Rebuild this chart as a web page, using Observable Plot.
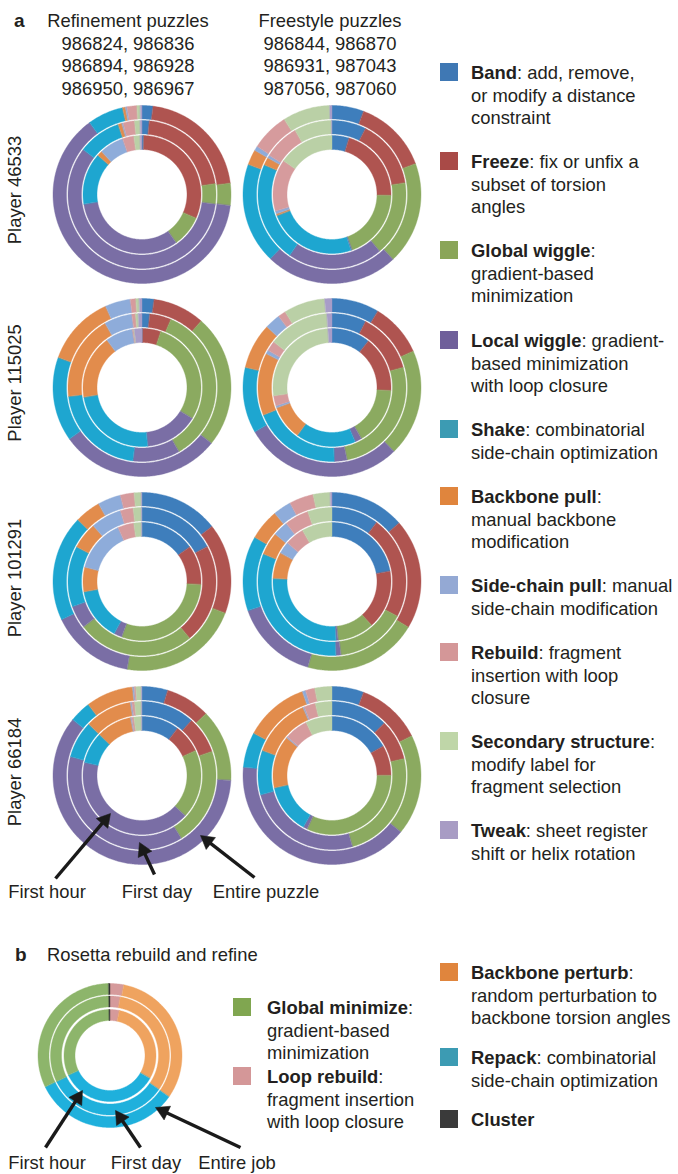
<!DOCTYPE html>
<html>
<head>
<meta charset="utf-8">
<script src="https://cdn.jsdelivr.net/npm/d3@7"></script>
<script src="https://cdn.jsdelivr.net/npm/@observablehq/plot@0.6"></script>
<style>
html, body { margin: 0; padding: 0; background: #fff; }
#fig { position: relative; width: 678px; height: 1174px; overflow: hidden;
  font-family: "Liberation Sans", Arial, Helvetica, sans-serif; color: #231f20; font-size: 18.4px; }
#fig svg { position: absolute; left: 0; top: 0; }
.t { position: absolute; white-space: nowrap; line-height: 1; }
.sq { position: absolute; width: 18px; height: 18px; }
</style>
</head>
<body>
<div id="fig"></div>
<script>
// ---------------- DATA ----------------
const categories = ["Band", "Freeze", "Global wiggle", "Local wiggle", "Shake",
  "Backbone pull", "Side-chain pull", "Rebuild", "Secondary structure", "Tweak"];
const categoryDescriptions = [
  [": add, remove,", "or modify a distance", "constraint"],
  [": fix or unfix a", "subset of torsion", "angles"],
  [":", "gradient-based", "minimization"],
  [": gradient-", "based minimization", "with loop closure"],
  [": combinatorial", "side-chain optimization"],
  [":", "manual backbone", "modification"],
  [": manual", "side-chain modification"],
  [": fragment", "insertion with loop", "closure"],
  [":", "modify label for", "fragment selection"],
  [": sheet register", "shift or helix rotation"]
];
const players = ["Player 46533", "Player 115025", "Player 101291", "Player 66184"];
const puzzleSets = ["Refinement puzzles", "Freestyle puzzles"];
const puzzleIds = [
  ["986824, 986836", "986894, 986928", "986950, 986967"],
  ["986844, 986870", "986931, 987043", "987056, 987060"]
];
const ringLabels = ["First hour", "First day", "Entire puzzle"];

// share of moves (%) per category; rows = first hour, first day, entire puzzle
const p46533Refinement = [
  [0.5, 31.1, 8.6, 32.2, 14.2, 1.4, 6.7, 3.1, 1.7, 0.5],
  [1.6, 21.1, 4.4, 58.3, 9.4, 0.8, 0.3, 2.5, 1.2, 0.4],
  [2.0, 21.0, 4.0, 63.0, 6.5, 0.5, 0.3, 1.8, 0.6, 0.3]
];
const p46533Freestyle = [
  [4.7, 20.6, 19.2, 0.3, 24.4, 0.5, 0.8, 14.2, 15.3, 0],
  [7.5, 15.0, 16.4, 20.8, 21.9, 1.7, 0.6, 7.8, 8.2, 0.1],
  [5.8, 13.6, 18.6, 24.2, 18.3, 2.8, 0.8, 6.9, 8.6, 0.4]
];
const p115025Refinement = [
  [0.2, 5.0, 28.6, 14.7, 23.9, 17.5, 7.5, 0.3, 0.2, 2.1],
  [1.7, 4.7, 35.3, 10.3, 21.1, 18.6, 6.1, 0.8, 0.6, 0.8],
  [2.2, 9.4, 24.2, 29.4, 15.3, 12.8, 4.6, 1.0, 0.6, 0.5]
];
const p115025Freestyle = [
  [10.6, 15.3, 15.8, 1.9, 16.4, 9.4, 0.6, 2.8, 26.1, 1.1],
  [7.5, 13.1, 26.1, 2.8, 19.4, 13.6, 0.8, 2.2, 13.3, 1.1],
  [8.6, 9.7, 19.4, 28.9, 11.9, 8.3, 2.8, 1.4, 7.5, 1.3]
];
const p101291Refinement = [
  [15.0, 10.8, 29.7, 2.2, 14.4, 6.7, 14.4, 4.4, 2.1, 0.1],
  [17.2, 21.7, 25.6, 5.0, 13.3, 5.8, 6.7, 2.8, 1.8, 0.1],
  [14.4, 16.4, 21.9, 15.3, 19.2, 4.7, 4.2, 2.5, 1.3, 0.1]
];
const p101291Freestyle = [
  [22.2, 16.1, 10.0, 0.6, 26.9, 7.2, 3.3, 5.3, 8.3, 0],
  [10.3, 22.5, 15.3, 1.1, 31.9, 5.0, 3.3, 5.3, 5.3, 0],
  [13.6, 20.0, 20.8, 15.3, 13.6, 5.6, 3.3, 4.4, 3.1, 0.3]
];
const p66184Refinement = [
  [10.3, 7.8, 18.9, 41.7, 8.6, 9.7, 0.3, 0.6, 2.1, 0.1],
  [11.7, 8.1, 21.4, 38.1, 8.1, 10.3, 0.3, 0.6, 1.5, 0.1],
  [4.7, 8.1, 13.1, 60.0, 3.9, 8.6, 0.3, 0.3, 1.0, 0.1]
];
const p66184Freestyle = [
  [16.7, 8.3, 31.9, 1.1, 13.6, 14.4, 0.3, 6.4, 7.2, 0],
  [12.5, 8.9, 24.2, 25.3, 9.7, 13.1, 0.3, 2.5, 3.6, 0],
  [5.8, 11.9, 18.3, 40.6, 6.4, 11.7, 0.6, 1.7, 3.1, 0]
];

// Rosetta (panel b), clockwise order from 12 o'clock
const rosettaSteps = ["Loop rebuild", "Backbone perturb", "Repack", "Global minimize", "Cluster"];
const rosettaShares = [
  [3.3, 30.0, 34.7, 31.7, 0.3],
  [2.8, 31.9, 33.1, 31.9, 0.3],
  [3.1, 31.7, 33.1, 31.9, 0.3]
];
const rosettaRingLabels = ["First hour", "First day", "Entire job"];
const rosettaLegend = ["Global minimize", "Loop rebuild", "Backbone perturb", "Repack", "Cluster"];
const rosettaDescriptions = [
  [":", "gradient-based", "minimization"],
  [":", "fragment insertion", "with loop closure"],
  [":", "random perturbation to", "backbone torsion angles"],
  [": combinatorial", "side-chain optimization"],
  [""]
];

// ---------------- STYLE / LAYOUT ----------------
const W = 678, H = 1174;
const sliceColors = ["#3e7ebc", "#af5450", "#8baa60", "#7a6ea5", "#1ea6d0",
  "#e28c4c", "#8eacda", "#d69b9d", "#bad0a6", "#a89dc8"];
const legendColors = ["#3f78b4", "#a94a47", "#8aa558", "#6f5f9a", "#3c9bb3",
  "#e0853d", "#94a9d4", "#d49798", "#bfd6a8", "#a89cc4"];
const rosettaSliceColors = ["#d59a9b", "#efa35f", "#1fb0dc", "#8db56b", "#333333"];
const rosettaLegendColors = ["#80a650", "#d49798", "#e0853d", "#3c9bb3", "#3a3a3a"];

const colX = [141.5, 331.5];
const rowY = [194, 387, 581, 775];
const ringRadii = [[45, 59], [60.5, 74], [75.5, 89]];
const rosettaCenter = [109.5, 1055];
const rosettaRadii = [[35, 46], [48.5, 59.5], [61, 72]];

const panels = [
  [p46533Refinement, p46533Freestyle],
  [p115025Refinement, p115025Freestyle],
  [p101291Refinement, p101291Freestyle],
  [p66184Refinement, p66184Freestyle]
];

// ---------------- BUILD SLICE POLYGONS ----------------
const pts = [];
let sid = 0;
function addDonut(rings, names, cx, cy, radii) {
  rings.forEach((vals, ri) => {
    const total = d3.sum(vals);
    let acc = 0;
    const [r0, r1] = radii[ri];
    vals.forEach((v, i) => {
      if (!(v > 0)) return;
      const a0 = acc / total * 2 * Math.PI;
      acc += v;
      const a1 = acc / total * 2 * Math.PI;
      const n = Math.max(2, Math.ceil((a1 - a0) / (Math.PI / 240)));
      const id = sid++;
      for (let k = 0; k <= n; k++) {
        const a = a0 + (a1 - a0) * k / n;
        pts.push({id, cat: names[i], x: cx + r1 * Math.sin(a), y: cy - r1 * Math.cos(a)});
      }
      for (let k = n; k >= 0; k--) {
        const a = a0 + (a1 - a0) * k / n;
        pts.push({id, cat: names[i], x: cx + r0 * Math.sin(a), y: cy - r0 * Math.cos(a)});
      }
    });
  });
}
panels.forEach((row, r) => row.forEach((rings, c) => addDonut(rings, categories, colX[c], rowY[r], ringRadii)));
addDonut(rosettaShares, rosettaSteps, rosettaCenter[0], rosettaCenter[1], rosettaRadii);

// arrows (annotation layout): tail -> tip
const arrowLayout = [
  {label: ringLabels[0], x1: 55, y1: 878, x2: 110, y2: 813},
  {label: ringLabels[1], x1: 154, y1: 874, x2: 139, y2: 842},
  {label: ringLabels[2], x1: 254, y1: 877, x2: 200, y2: 835},
  {label: rosettaRingLabels[0], x1: 45, y1: 1147, x2: 82, y2: 1090},
  {label: rosettaRingLabels[1], x1: 140, y1: 1147, x2: 115, y2: 1110},
  {label: rosettaRingLabels[2], x1: 240, y1: 1147, x2: 155, y2: 1107}
];
const headR = 5.6;
const tipOffset = 2 * Math.sqrt(headR * headR * Math.PI / (Math.sqrt(3) * 3));
const arrows = arrowLayout.map(a => {
  const dx = a.x2 - a.x1, dy = a.y2 - a.y1, L = Math.hypot(dx, dy);
  const ux = dx / L, uy = dy / L;
  return {...a, hx: a.x2 - ux * tipOffset, hy: a.y2 - uy * tipOffset,
    angle: Math.atan2(dx, -dy) * 180 / Math.PI};
});

const chart = Plot.plot({
  width: W, height: H, margin: 0,
  x: {domain: [0, W], range: [0, W], axis: null},
  y: {domain: [0, H], range: [0, H], axis: null},
  color: {type: "ordinal", domain: [...categories, ...rosettaSteps],
    range: [...sliceColors, ...rosettaSliceColors]},
  marks: [
    Plot.line(pts, {x: "x", y: "y", z: "id", fill: "cat", stroke: "cat",
      strokeWidth: 0.4, curve: "linear-closed"}),
    Plot.link(arrows, {x1: "x1", y1: "y1", x2: "hx", y2: "hy", stroke: "#1a1a1a", strokeWidth: 3.4}),
    Plot.dot(arrows, {x: "hx", y: "hy", symbol: "triangle", r: headR, fill: "#1a1a1a",
      stroke: "#1a1a1a", strokeWidth: 0.5, rotate: "angle"})
  ]
});
const fig = document.getElementById("fig");
fig.appendChild(chart);

// ---------------- TEXT ----------------
function addText(html, x, y, anchor = "start", extra = {}) {
  const d = document.createElement("div");
  d.className = "t";
  d.innerHTML = html;
  d.style.left = x + "px";
  d.style.top = y + "px";
  d.style.transform = anchor === "middle" ? "translate(-50%,-50%)" : "translateY(-50%)";
  Object.assign(d.style, extra);
  fig.appendChild(d);
  return d;
}
function addSquare(x, y, color) {
  const s = document.createElement("div");
  s.className = "sq";
  s.style.left = x + "px";
  s.style.top = y + "px";
  s.style.background = color;
  fig.appendChild(s);
}
const lineH = 22.5;

// panel a header
addText("<b>a</b>", 14, 20, "start", {fontSize: "19px"});
const headerX = [128, 330];
puzzleSets.forEach((s, c) => {
  addText(s, headerX[c], 21, "middle");
  puzzleIds[c].forEach((line, k) => addText(line, headerX[c], 21 + lineH * (k + 1), "middle"));
});
// player labels
const playerLabelY = [190, 383, 578, 772];
players.forEach((p, r) => {
  addText(p, 15, playerLabelY[r], "middle").style.transform = "translate(-50%,-50%) rotate(-90deg)";
});
// legend panel a
const legendY = [73, 162, 251, 341, 430, 497, 586, 653, 742, 831];
categories.forEach((cat, i) => {
  addSquare(440, legendY[i] - 10, legendColors[i]);
  const lines = categoryDescriptions[i];
  addText("<b>" + cat + "</b>" + lines[0], 471, legendY[i]);
  lines.slice(1).forEach((l, k) => addText(l, 471, legendY[i] + lineH * (k + 1)));
});
// ring labels panel a
const ringLabelX = [47, 157, 266];
ringLabels.forEach((l, k) => addText(l, ringLabelX[k], 892, "middle"));

// panel b
addText("<b>b</b>", 15, 954, "start", {fontSize: "19px"});
addText("Rosetta rebuild and refine", 47, 955);
const rosettaLegendPos = [[233, 267, 1008], [233, 267, 1077], [440, 471, 973], [440, 471, 1058], [440, 471, 1120]];
rosettaLegend.forEach((name, i) => {
  const [sx, tx, ty] = rosettaLegendPos[i];
  addSquare(sx, ty - 10, rosettaLegendColors[i]);
  const lines = rosettaDescriptions[i];
  addText("<b>" + name + "</b>" + lines[0], tx, ty);
  lines.slice(1).forEach((l, k) => addText(l, tx, ty + lineH * (k + 1)));
});
const rosettaLabelX = [47, 146, 237];
rosettaRingLabels.forEach((l, k) => addText(l, rosettaLabelX[k], 1163, "middle"));
</script>
</body>
</html>
